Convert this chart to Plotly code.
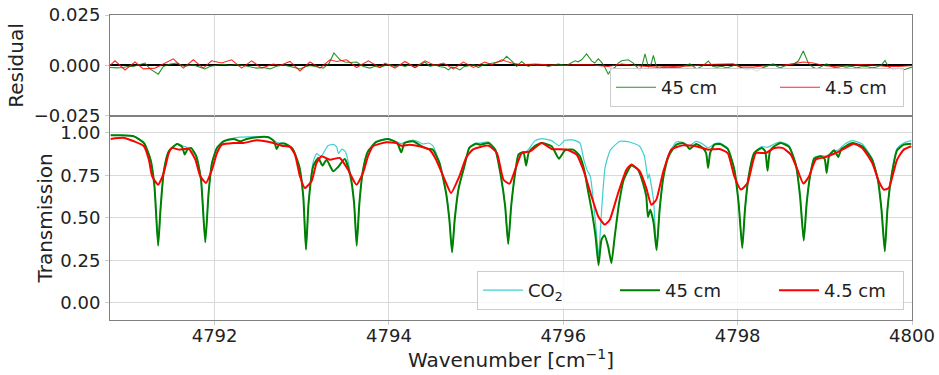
import plotly.graph_objects as go

# ---------------- data ----------------
# Transmission, 45 cm path (wavenumber cm^-1, transmission)
trans_45cm = [
    (4790.808, 0.986), (4790.922, 0.986), (4791.074, 0.980), (4791.189, 0.941), (4791.265, 0.843),
    (4791.310, 0.686), (4791.352, 0.337), (4791.379, 0.549), (4791.417, 0.775), (4791.474, 0.892),
    (4791.570, 0.935), (4791.627, 0.918), (4791.657, 0.873), (4791.691, 0.906), (4791.730, 0.912),
    (4791.790, 0.863), (4791.844, 0.725), (4791.893, 0.357), (4791.931, 0.647), (4791.970, 0.824),
    (4792.027, 0.912), (4792.103, 0.951), (4792.217, 0.965), (4792.293, 0.951), (4792.370, 0.965),
    (4792.484, 0.975), (4792.617, 0.975), (4792.682, 0.951), (4792.712, 0.906), (4792.743, 0.935),
    (4792.808, 0.937), (4792.895, 0.906), (4792.971, 0.804), (4793.017, 0.627), (4793.048, 0.314),
    (4793.078, 0.588), (4793.131, 0.804), (4793.189, 0.853), (4793.238, 0.808), (4793.284, 0.843),
    (4793.360, 0.775), (4793.417, 0.800), (4793.493, 0.847), (4793.558, 0.745), (4793.600, 0.588),
    (4793.630, 0.337), (4793.661, 0.588), (4793.703, 0.784), (4793.760, 0.892), (4793.855, 0.947),
    (4793.989, 0.965), (4794.095, 0.941), (4794.141, 0.886), (4794.179, 0.941), (4794.274, 0.951),
    (4794.389, 0.918), (4794.446, 0.906), (4794.503, 0.902), (4794.579, 0.824), (4794.655, 0.647),
    (4794.693, 0.490), (4794.724, 0.298), (4794.754, 0.490), (4794.800, 0.676), (4794.865, 0.804),
    (4794.922, 0.912), (4794.998, 0.937), (4795.048, 0.931), (4795.143, 0.941), (4795.219, 0.902),
    (4795.284, 0.745), (4795.333, 0.569), (4795.368, 0.347), (4795.402, 0.569), (4795.448, 0.765),
    (4795.486, 0.873), (4795.543, 0.886), (4795.573, 0.808), (4795.604, 0.886), (4795.676, 0.925),
    (4795.752, 0.941), (4795.867, 0.922), (4795.950, 0.849), (4796.019, 0.898), (4796.114, 0.902),
    (4796.190, 0.863), (4796.248, 0.765), (4796.274, 0.686), (4796.324, 0.549), (4796.370, 0.392),
    (4796.404, 0.222), (4796.438, 0.373), (4796.472, 0.398), (4796.514, 0.333), (4796.552, 0.235),
    (4796.590, 0.392), (4796.640, 0.588), (4796.693, 0.725), (4796.781, 0.808), (4796.857, 0.784),
    (4796.914, 0.706), (4796.952, 0.627), (4796.971, 0.506), (4796.998, 0.549), (4797.036, 0.471),
    (4797.070, 0.310), (4797.105, 0.549), (4797.150, 0.745), (4797.208, 0.863), (4797.295, 0.931),
    (4797.371, 0.941), (4797.417, 0.925), (4797.448, 0.906), (4797.524, 0.935), (4797.600, 0.912),
    (4797.638, 0.882), (4797.661, 0.794), (4797.684, 0.882), (4797.733, 0.931), (4797.798, 0.935),
    (4797.886, 0.906), (4797.962, 0.784), (4798.011, 0.588), (4798.053, 0.324), (4798.084, 0.549),
    (4798.126, 0.745), (4798.190, 0.882), (4798.278, 0.912), (4798.316, 0.892), (4798.343, 0.778),
    (4798.370, 0.892), (4798.419, 0.922), (4798.495, 0.941), (4798.590, 0.918), (4798.667, 0.814),
    (4798.716, 0.627), (4798.758, 0.367), (4798.792, 0.588), (4798.830, 0.745), (4798.876, 0.847),
    (4798.952, 0.863), (4798.998, 0.847), (4799.021, 0.765), (4799.048, 0.863), (4799.105, 0.898),
    (4799.154, 0.859), (4799.192, 0.906), (4799.314, 0.941), (4799.429, 0.922), (4799.543, 0.843),
    (4799.608, 0.725), (4799.650, 0.549), (4799.688, 0.304), (4799.718, 0.549), (4799.764, 0.745),
    (4799.829, 0.898), (4799.905, 0.931), (4799.992, 0.937),
]

# Transmission, CO2 model
trans_co2 = [
    (4790.808, 0.986), (4791.074, 0.982), (4791.189, 0.943), (4791.265, 0.845), (4791.310, 0.688),
    (4791.352, 0.337), (4791.379, 0.549), (4791.417, 0.775), (4791.474, 0.892), (4791.570, 0.937),
    (4791.627, 0.925), (4791.691, 0.912), (4791.790, 0.865), (4791.844, 0.727), (4791.893, 0.357),
    (4791.931, 0.647), (4791.970, 0.824), (4792.027, 0.915), (4792.103, 0.953), (4792.217, 0.970),
    (4792.293, 0.975), (4792.370, 0.977), (4792.484, 0.977), (4792.617, 0.977), (4792.682, 0.955),
    (4792.712, 0.945), (4792.743, 0.940), (4792.808, 0.939), (4792.895, 0.906), (4792.971, 0.804),
    (4793.017, 0.627), (4793.048, 0.314), (4793.078, 0.588), (4793.131, 0.830), (4793.170, 0.878),
    (4793.220, 0.862), (4793.300, 0.925), (4793.360, 0.933), (4793.400, 0.918), (4793.420, 0.878),
    (4793.460, 0.905), (4793.500, 0.890), (4793.558, 0.760), (4793.600, 0.588), (4793.630, 0.337),
    (4793.661, 0.588), (4793.703, 0.784), (4793.760, 0.892), (4793.855, 0.949), (4793.989, 0.967),
    (4794.095, 0.947), (4794.141, 0.937), (4794.179, 0.945), (4794.274, 0.958), (4794.350, 0.945),
    (4794.390, 0.935), (4794.450, 0.941), (4794.503, 0.925), (4794.579, 0.830), (4794.655, 0.650),
    (4794.693, 0.490), (4794.724, 0.298), (4794.754, 0.490), (4794.800, 0.676), (4794.865, 0.804),
    (4794.922, 0.915), (4794.998, 0.940), (4795.048, 0.941), (4795.143, 0.947), (4795.219, 0.905),
    (4795.284, 0.745), (4795.333, 0.569), (4795.368, 0.347), (4795.402, 0.569), (4795.448, 0.765),
    (4795.486, 0.875), (4795.543, 0.890), (4795.573, 0.890), (4795.604, 0.905), (4795.676, 0.955),
    (4795.752, 0.967), (4795.867, 0.955), (4795.950, 0.925), (4796.019, 0.957), (4796.114, 0.959),
    (4796.190, 0.941), (4796.235, 0.845), (4796.274, 0.780), (4796.310, 0.745), (4796.370, 0.470),
    (4796.404, 0.280), (4796.440, 0.550), (4796.480, 0.800), (4796.540, 0.900), (4796.650, 0.951),
    (4796.760, 0.947), (4796.876, 0.922), (4796.930, 0.863), (4796.950, 0.800), (4796.970, 0.730),
    (4796.985, 0.760), (4797.000, 0.720), (4797.036, 0.600), (4797.070, 0.320), (4797.105, 0.549),
    (4797.150, 0.750), (4797.208, 0.875), (4797.295, 0.947), (4797.371, 0.945), (4797.448, 0.925),
    (4797.524, 0.951), (4797.600, 0.935), (4797.661, 0.912), (4797.733, 0.935), (4797.798, 0.941),
    (4797.886, 0.910), (4797.962, 0.788), (4798.011, 0.590), (4798.053, 0.324), (4798.084, 0.549),
    (4798.126, 0.745), (4798.190, 0.885), (4798.278, 0.920), (4798.343, 0.915), (4798.419, 0.935),
    (4798.495, 0.947), (4798.590, 0.925), (4798.667, 0.818), (4798.716, 0.627), (4798.758, 0.367),
    (4798.792, 0.588), (4798.830, 0.745), (4798.876, 0.855), (4798.952, 0.867), (4799.020, 0.865),
    (4799.080, 0.890), (4799.154, 0.900), (4799.230, 0.935), (4799.314, 0.955), (4799.429, 0.935),
    (4799.543, 0.850), (4799.608, 0.730), (4799.650, 0.549), (4799.688, 0.304), (4799.718, 0.549),
    (4799.764, 0.750), (4799.829, 0.910), (4799.905, 0.941), (4799.992, 0.955),
]

# Transmission, 4.5 cm path
trans_4p5cm = [
    (4790.808, 0.965), (4790.960, 0.971), (4791.074, 0.951), (4791.189, 0.922), (4791.246, 0.843),
    (4791.284, 0.745), (4791.352, 0.696), (4791.417, 0.765), (4791.474, 0.882), (4791.512, 0.912),
    (4791.589, 0.902), (4791.703, 0.906), (4791.779, 0.843), (4791.836, 0.745), (4791.901, 0.706),
    (4791.970, 0.784), (4792.027, 0.882), (4792.084, 0.931), (4792.217, 0.941), (4792.331, 0.941),
    (4792.484, 0.957), (4792.674, 0.941), (4792.770, 0.925), (4792.865, 0.918), (4792.922, 0.873),
    (4792.979, 0.745), (4793.036, 0.676), (4793.112, 0.716), (4793.170, 0.824), (4793.227, 0.863),
    (4793.322, 0.843), (4793.436, 0.853), (4793.531, 0.784), (4793.627, 0.696), (4793.703, 0.765),
    (4793.760, 0.863), (4793.817, 0.922), (4793.970, 0.945), (4794.084, 0.941), (4794.141, 0.925),
    (4794.236, 0.931), (4794.350, 0.922), (4794.465, 0.902), (4794.541, 0.843), (4794.655, 0.706),
    (4794.712, 0.647), (4794.808, 0.745), (4794.884, 0.853), (4794.960, 0.902), (4795.048, 0.918),
    (4795.143, 0.925), (4795.238, 0.882), (4795.314, 0.725), (4795.383, 0.702), (4795.448, 0.784),
    (4795.524, 0.882), (4795.619, 0.892), (4795.752, 0.941), (4795.867, 0.906), (4796.038, 0.902),
    (4796.152, 0.873), (4796.229, 0.784), (4796.324, 0.627), (4796.400, 0.510), (4796.476, 0.461),
    (4796.533, 0.490), (4796.629, 0.647), (4796.724, 0.784), (4796.781, 0.814), (4796.876, 0.775),
    (4796.952, 0.676), (4797.010, 0.578), (4797.067, 0.608), (4797.143, 0.765), (4797.238, 0.902),
    (4797.371, 0.927), (4797.524, 0.922), (4797.661, 0.902), (4797.790, 0.906), (4797.886, 0.882),
    (4797.962, 0.745), (4798.038, 0.667), (4798.114, 0.706), (4798.210, 0.882), (4798.324, 0.882),
    (4798.419, 0.912), (4798.514, 0.912), (4798.610, 0.873), (4798.686, 0.784), (4798.754, 0.702),
    (4798.819, 0.745), (4798.895, 0.843), (4799.010, 0.859), (4799.124, 0.882), (4799.238, 0.912),
    (4799.333, 0.937), (4799.429, 0.912), (4799.543, 0.824), (4799.619, 0.716), (4799.676, 0.667),
    (4799.733, 0.676), (4799.829, 0.843), (4799.905, 0.902), (4799.992, 0.922),
]

# Residuals, 45 cm
resid_45cm = [
    (4790.800, -0.0010), (4790.880, -0.0012), (4790.953, -0.0010), (4791.010, -0.0004), (4791.068, -0.0005),
    (4791.130, 0.0004), (4791.201, 0.0012), (4791.259, -0.0017), (4791.354, -0.0043), (4791.412, -0.0005),
    (4791.480, 0.0006), (4791.565, 0.0012), (4791.650, -0.0004), (4791.756, 0.0003), (4791.830, -0.0008),
    (4791.889, -0.0017), (4791.950, -0.0004), (4792.023, 0.0000), (4792.100, 0.0006), (4792.176, 0.0000),
    (4792.250, 0.0005), (4792.329, 0.0000), (4792.410, -0.0008), (4792.482, -0.0013), (4792.560, -0.0010),
    (4792.635, -0.0017), (4792.710, -0.0004), (4792.788, 0.0003), (4792.880, -0.0006), (4792.979, -0.0017),
    (4793.040, -0.0006), (4793.094, 0.0000), (4793.170, -0.0006), (4793.247, -0.0013), (4793.315, 0.0012),
    (4793.369, 0.0062), (4793.438, 0.0028), (4793.495, 0.0017), (4793.560, 0.0015), (4793.629, 0.0017),
    (4793.705, -0.0005), (4793.782, -0.0013), (4793.840, -0.0004), (4793.896, -0.0010), (4793.955, 0.0000),
    (4794.010, 0.0004), (4794.069, -0.0005), (4794.130, 0.0003), (4794.184, -0.0005), (4794.240, 0.0004),
    (4794.299, -0.0010), (4794.360, 0.0005), (4794.413, 0.0017), (4794.470, -0.0004), (4794.528, 0.0003),
    (4794.590, -0.0006), (4794.643, -0.0010), (4794.681, -0.0022), (4794.720, -0.0008), (4794.757, -0.0010),
    (4794.815, -0.0022), (4794.860, -0.0006), (4794.910, 0.0000), (4794.970, 0.0004), (4795.025, -0.0010),
    (4795.080, 0.0003), (4795.140, 0.0007), (4795.200, 0.0012), (4795.254, 0.0020), (4795.300, 0.0022),
    (4795.350, 0.0045), (4795.407, 0.0023), (4795.465, -0.0005), (4795.522, 0.0020), (4795.560, 0.0006),
    (4795.598, -0.0005), (4795.650, 0.0004), (4795.713, 0.0000), (4795.770, 0.0004), (4795.828, -0.0005),
    (4795.890, 0.0002), (4795.942, 0.0007), (4796.038, 0.0000), (4796.090, 0.0012), (4796.134, 0.0023),
    (4796.170, 0.0018), (4796.210, 0.0028), (4796.267, 0.0057), (4796.325, 0.0023), (4796.360, 0.0012),
    (4796.401, 0.0033), (4796.440, 0.0015), (4796.478, -0.0010), (4796.516, -0.0043), (4796.550, -0.0020),
    (4796.592, -0.0010), (4796.630, 0.0012), (4796.669, 0.0023), (4796.745, 0.0028), (4796.803, 0.0012),
    (4796.860, -0.0013), (4796.880, -0.0025), (4796.910, 0.0010), (4796.937, 0.0058), (4796.976, -0.0008),
    (4797.010, 0.0010), (4797.033, 0.0050), (4797.060, 0.0005), (4797.090, -0.0017), (4797.148, -0.0008),
    (4797.200, -0.0012), (4797.262, -0.0008), (4797.320, -0.0012), (4797.377, -0.0005), (4797.453, 0.0008),
    (4797.490, -0.0004), (4797.530, -0.0017), (4797.600, -0.0002), (4797.664, 0.0022), (4797.710, -0.0004),
    (4797.759, -0.0008), (4797.820, -0.0004), (4797.874, -0.0012), (4797.930, -0.0004), (4797.989, 0.0005),
    (4798.050, -0.0012), (4798.103, -0.0022), (4798.160, -0.0015), (4798.218, -0.0028), (4798.280, -0.0012),
    (4798.333, -0.0005), (4798.409, 0.0008), (4798.450, -0.0004), (4798.486, -0.0012), (4798.540, -0.0002),
    (4798.600, 0.0005), (4798.650, 0.0010), (4798.696, 0.0022), (4798.753, 0.0072), (4798.810, 0.0012),
    (4798.860, -0.0008), (4798.906, -0.0017), (4798.960, -0.0004), (4799.021, 0.0008), (4799.080, -0.0006),
    (4799.135, -0.0012), (4799.190, -0.0004), (4799.250, -0.0008), (4799.310, -0.0004), (4799.365, -0.0012),
    (4799.420, -0.0006), (4799.479, -0.0005), (4799.540, -0.0012), (4799.594, -0.0008), (4799.650, 0.0002),
    (4799.690, 0.0025), (4799.730, -0.0006), (4799.785, -0.0022), (4799.840, -0.0014), (4799.900, -0.0022),
    (4800.000, -0.0008),
]

# Residuals, 4.5 cm
resid_4p5cm = [
    (4790.800, 0.0000), (4790.857, 0.0023), (4790.972, -0.0022), (4791.087, 0.0017), (4791.182, -0.0017),
    (4791.316, -0.0013), (4791.412, 0.0007), (4791.526, 0.0033), (4791.641, -0.0013), (4791.756, 0.0028),
    (4791.870, -0.0013), (4791.966, 0.0023), (4792.081, 0.0012), (4792.195, 0.0028), (4792.310, -0.0013),
    (4792.425, 0.0023), (4792.539, -0.0013), (4792.673, 0.0007), (4792.750, 0.0000), (4792.864, 0.0020),
    (4792.979, -0.0027), (4793.094, 0.0017), (4793.208, -0.0013), (4793.323, 0.0028), (4793.399, 0.0020),
    (4793.514, 0.0028), (4793.629, -0.0010), (4793.763, 0.0023), (4793.896, -0.0010), (4793.955, 0.0012),
    (4794.069, -0.0013), (4794.184, 0.0020), (4794.299, -0.0010), (4794.413, 0.0023), (4794.528, 0.0000),
    (4794.624, 0.0012), (4794.738, -0.0017), (4794.853, 0.0017), (4794.968, -0.0010), (4795.101, 0.0017),
    (4795.178, 0.0003), (4795.293, 0.0028), (4795.407, 0.0012), (4795.522, 0.0003), (4795.675, 0.0007),
    (4795.828, 0.0003), (4795.981, 0.0000), (4796.134, 0.0003), (4796.325, 0.0003), (4796.516, -0.0005),
    (4796.669, 0.0007), (4796.822, 0.0000), (4797.071, -0.0008), (4797.262, -0.0005), (4797.453, -0.0002),
    (4797.645, 0.0005), (4797.797, 0.0008), (4797.950, 0.0008), (4798.027, -0.0008), (4798.180, -0.0008),
    (4798.333, 0.0000), (4798.486, 0.0000), (4798.638, 0.0008), (4798.753, 0.0017), (4798.868, 0.0012),
    (4798.983, 0.0000), (4799.097, -0.0005), (4799.250, 0.0000), (4799.403, 0.0005), (4799.556, 0.0002),
    (4799.709, -0.0005), (4799.862, -0.0005), (4800.000, 0.0000),
]

x_range = [4790.8, 4800.0]
x_ticks = [4792, 4794, 4796, 4798, 4800]
t_ticks = [0.0, 0.25, 0.5, 0.75, 1.0]
r_ticks = [-0.025, 0.0, 0.025]

# ---------------- figure ----------------
def xy(pairs):
    xs, ys = zip(*pairs)
    return list(xs), list(ys)

GREEN = "#008000"
RED = "#ff0000"
CYAN = "#3fcfcf"
FONT = "DejaVu Sans"
SPL = dict(shape="spline", smoothing=0.5)

fig = go.Figure()

x, y = xy(trans_co2)
fig.add_trace(go.Scatter(x=x, y=y, mode="lines", name="CO<sub>2</sub>",
                         line=dict(color=CYAN, width=1.2, **SPL), xaxis="x", yaxis="y",
                         legend="legend", legendwidth=82))
x, y = xy(trans_45cm)
fig.add_trace(go.Scatter(x=x, y=y, mode="lines", name="45 cm",
                         line=dict(color=GREEN, width=2, **SPL), xaxis="x", yaxis="y",
                         legend="legend", legendwidth=104))
x, y = xy(trans_4p5cm)
fig.add_trace(go.Scatter(x=x, y=y, mode="lines", name="4.5 cm",
                         line=dict(color=RED, width=2, **SPL), xaxis="x", yaxis="y",
                         legend="legend", legendwidth=74))

x, y = xy(resid_45cm)
fig.add_trace(go.Scatter(x=x, y=y, mode="lines", name="45 cm",
                         line=dict(color="rgba(0,128,0,0.85)", width=1.1), xaxis="x2", yaxis="y2",
                         legend="legend2", legendwidth=109))
x, y = xy(resid_4p5cm)
fig.add_trace(go.Scatter(x=x, y=y, mode="lines", name="4.5 cm",
                         line=dict(color="rgba(255,0,0,0.85)", width=1.1), xaxis="x2", yaxis="y2",
                         legend="legend2", legendwidth=73))

axis_common = dict(showline=True, linecolor="#808080", linewidth=1, mirror=True,
                   gridcolor="#d9d9d9", gridwidth=1, ticks="outside", ticklen=4,
                   tickcolor="#cccccc", ticklabelstandoff=1,
                   tickfont=dict(family=FONT, size=18, color="#222"),
                   automargin=False)

legend_common = dict(orientation="h", xanchor="right", x=0.99, yanchor="bottom",
                     itemwidth=40,
                     bgcolor="rgba(255,255,255,0.8)", bordercolor="#cccccc", borderwidth=1,
                     font=dict(family=FONT, size=18, color="#222"))

fig.update_layout(
    width=939, height=375,
    margin=dict(l=110, r=27, t=15, b=55),
    paper_bgcolor="white", plot_bgcolor="white",
    font=dict(family=FONT, size=18, color="#222"),
    xaxis=dict(axis_common, range=x_range, tickvals=x_ticks, anchor="y", ticklabelstandoff=-5,
               title=dict(text="Wavenumber [cm<sup>−1</sup>]", font=dict(family=FONT, size=20), standoff=0)),
    yaxis=dict(axis_common, domain=[0, 0.669], range=[-0.1, 1.1], tickvals=t_ticks, tickformat=".2f",
               zeroline=False, title=dict(text="Transmission", font=dict(family=FONT, size=20), standoff=2)),
    xaxis2=dict(axis_common, range=x_range, tickvals=x_ticks, anchor="y2", matches="x",
                showticklabels=False, ticks=""),
    yaxis2=dict(axis_common, domain=[0.669, 1], range=[-0.025, 0.025], tickvals=r_ticks, tickformat=".3f",
                zeroline=True, zerolinecolor="black", zerolinewidth=1.5,
                title=dict(text="Residual", font=dict(family=FONT, size=20), standoff=4)),
    legend=dict(legend_common, y=0.033),
    legend2=dict(legend_common, y=0.698),
)

fig.write_html("out.html")
